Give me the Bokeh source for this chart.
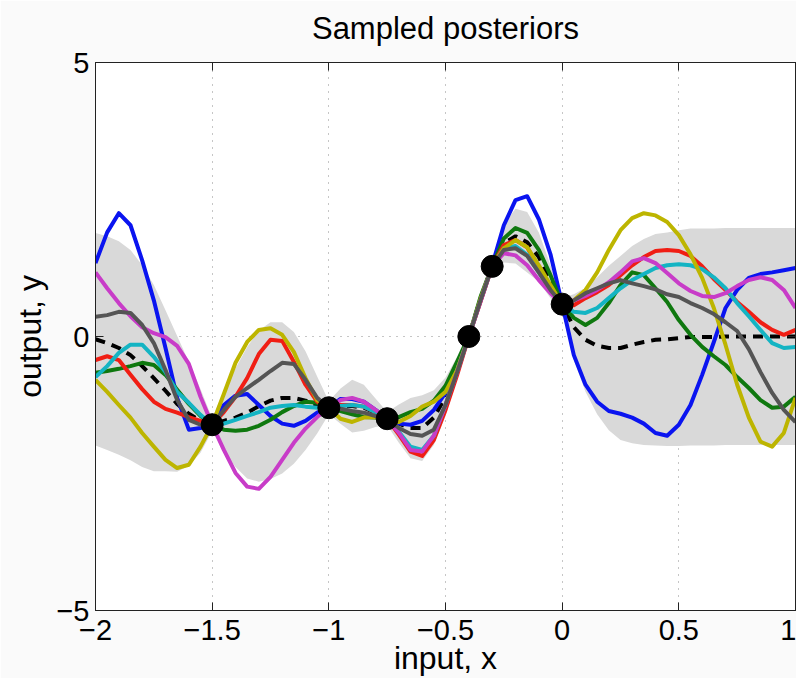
from bokeh.plotting import figure
from bokeh.models import FixedTicker, LinearAxis, Range1d
from bokeh.embed import file_html
from bokeh.resources import INLINE

# ---- data ----
xs = [-2.00, -1.95, -1.90, -1.85, -1.80, -1.75, -1.70, -1.65, -1.60, -1.55, -1.50,
      -1.45, -1.40, -1.35, -1.30, -1.25, -1.20, -1.15, -1.10, -1.05, -1.00,
      -0.95, -0.90, -0.85, -0.80, -0.75, -0.70, -0.65, -0.60, -0.55, -0.50,
      -0.45, -0.40, -0.35, -0.30, -0.25, -0.20, -0.15, -0.10, -0.05, 0.00,
      0.05, 0.10, 0.15, 0.20, 0.25, 0.30, 0.35, 0.40, 0.45, 0.50,
      0.55, 0.60, 0.65, 0.70, 0.75, 0.80, 0.85, 0.90, 0.95, 1.00]

mean = [-0.05, -0.12, -0.21, -0.34, -0.54, -0.76, -0.99, -1.23, -1.41, -1.54, -1.61,
        -1.54, -1.48, -1.39, -1.27, -1.17, -1.12, -1.12, -1.17, -1.25, -1.30,
        -1.27, -1.27, -1.30, -1.39, -1.50, -1.59, -1.67, -1.67, -1.48, -1.10,
        -0.57, 0.00, 0.68, 1.28, 1.70, 1.83, 1.72, 1.45, 1.00, 0.59,
        0.17, -0.06, -0.17, -0.21, -0.21, -0.15, -0.10, -0.06, -0.05, -0.03,
        -0.01, -0.01, -0.01, 0.00, 0.00, 0.00, 0.00, 0.00, 0.00, 0.00]

two_sd = [1.94, 1.95, 1.95, 1.92, 1.84, 1.70, 1.47, 1.24, 0.95, 0.58, 0.12,
          0.55, 0.90, 1.20, 1.38, 1.43, 1.38, 1.20, 0.90, 0.52, 0.12,
          0.32, 0.48, 0.42, 0.26, 0.12, 0.35, 0.55, 0.60, 0.50, 0.35,
          0.20, 0.12, 0.15, 0.12, 0.35, 0.50, 0.55, 0.45, 0.30, 0.12,
          0.60, 0.95, 1.25, 1.50, 1.68, 1.80, 1.88, 1.93, 1.95, 1.97,
          1.98, 1.98, 1.98, 1.98, 1.98, 1.98, 1.98, 1.98, 1.98, 1.98]

s_blue = [1.34, 1.90, 2.25, 2.03, 1.39, 0.66, -0.21, -1.12, -1.70, -1.67, -1.61,
          -1.25, -1.08, -1.05, -1.25, -1.45, -1.59, -1.63, -1.54, -1.39, -1.30,
          -1.14, -1.14, -1.19, -1.34, -1.50, -1.59, -1.61, -1.54, -1.34, -1.03,
          -0.52, 0.00, 0.66, 1.30, 2.03, 2.49, 2.56, 2.14, 1.50, 0.59,
          -0.34, -0.88, -1.19, -1.36, -1.41, -1.48, -1.59, -1.76, -1.81, -1.61,
          -1.25, -0.70, -0.10, 0.52, 0.85, 1.07, 1.14, 1.17, 1.21, 1.25]

s_red = [-0.43, -0.36, -0.43, -0.70, -0.96, -1.19, -1.32, -1.39, -1.47, -1.54, -1.61,
         -1.38, -1.10, -0.76, -0.32, -0.06, -0.08, -0.46, -0.88, -1.19, -1.30,
         -1.25, -1.25, -1.28, -1.38, -1.50, -1.79, -2.10, -2.18, -1.89, -1.34,
         -0.70, 0.00, 0.63, 1.28, 1.67, 1.76, 1.63, 1.25, 0.85, 0.59,
         0.57, 0.70, 0.81, 0.94, 1.12, 1.30, 1.45, 1.56, 1.58, 1.56,
         1.47, 1.28, 1.05, 0.85, 0.63, 0.45, 0.26, 0.12, 0.03, 0.12]

s_yellow = [-0.79, -1.01, -1.25, -1.48, -1.76, -2.01, -2.25, -2.40, -2.34, -2.01, -1.61,
            -1.05, -0.48, -0.10, 0.12, 0.15, 0.03, -0.28, -0.76, -1.16, -1.30,
            -1.50, -1.56, -1.48, -1.47, -1.50, -1.56, -1.45, -1.28, -1.19, -1.01,
            -0.61, 0.00, 0.68, 1.28, 1.61, 1.76, 1.63, 1.30, 0.94, 0.59,
            0.66, 0.85, 1.17, 1.58, 1.94, 2.16, 2.25, 2.21, 2.09, 1.85,
            1.50, 1.07, 0.52, -0.15, -0.88, -1.48, -1.92, -2.01, -1.76, -1.12]

s_magenta = [1.17, 0.88, 0.61, 0.37, 0.17, 0.06, -0.01, -0.17, -0.50, -1.10, -1.61,
             -2.07, -2.49, -2.74, -2.78, -2.56, -2.25, -1.94, -1.68, -1.47, -1.30,
             -1.16, -1.12, -1.19, -1.34, -1.50, -1.76, -2.07, -2.10, -1.81, -1.25,
             -0.65, 0.00, 0.64, 1.28, 1.52, 1.48, 1.30, 1.03, 0.79, 0.59,
             0.66, 0.74, 0.85, 0.99, 1.17, 1.37, 1.43, 1.34, 1.16, 0.97,
             0.83, 0.74, 0.72, 0.79, 0.92, 1.03, 1.08, 1.03, 0.85, 0.52]

s_cyan = [-0.74, -0.54, -0.30, -0.15, -0.15, -0.37, -0.65, -1.01, -1.21, -1.43, -1.61,
          -1.59, -1.52, -1.45, -1.38, -1.30, -1.27, -1.25, -1.28, -1.30, -1.30,
          -1.27, -1.25, -1.28, -1.38, -1.50, -1.74, -2.01, -2.07, -1.81, -1.25,
          -0.61, 0.00, 0.66, 1.28, 1.61, 1.65, 1.49, 1.17, 0.85, 0.59,
          0.45, 0.43, 0.52, 0.70, 0.88, 1.03, 1.14, 1.25, 1.30, 1.32,
          1.30, 1.23, 1.08, 0.88, 0.61, 0.37, 0.12, -0.12, -0.21, -0.19]

s_green = [-0.66, -0.63, -0.59, -0.54, -0.48, -0.52, -0.70, -0.97, -1.23, -1.45, -1.61,
           -1.70, -1.72, -1.70, -1.63, -1.52, -1.38, -1.27, -1.19, -1.21, -1.30,
           -1.36, -1.42, -1.47, -1.48, -1.50, -1.47, -1.38, -1.32, -1.17, -0.90,
           -0.46, 0.00, 0.72, 1.28, 1.79, 1.98, 1.89, 1.58, 1.12, 0.59,
           0.34, 0.21, 0.34, 0.61, 0.94, 1.17, 1.12, 0.88, 0.63, 0.30,
           0.03, -0.19, -0.36, -0.52, -0.74, -0.94, -1.16, -1.30, -1.28, -1.10]

s_gray = [0.36, 0.39, 0.45, 0.43, 0.21, -0.12, -0.61, -1.16, -1.52, -1.61, -1.61,
          -1.34, -1.10, -0.94, -0.79, -0.63, -0.48, -0.50, -0.79, -1.12, -1.30,
          -1.32, -1.36, -1.39, -1.45, -1.50, -1.67, -1.78, -1.81, -1.70, -1.25,
          -0.65, 0.00, 0.66, 1.28, 1.58, 1.61, 1.47, 1.17, 0.85, 0.59,
          0.66, 0.79, 0.88, 0.97, 1.03, 0.97, 0.92, 0.86, 0.77, 0.72,
          0.61, 0.52, 0.41, 0.26, 0.10, -0.23, -0.65, -1.03, -1.34, -1.56]

obs_x = [-1.5, -1.0, -0.75, -0.4, -0.3, 0.0]
obs_y = [-1.61, -1.30, -1.50, 0.00, 1.28, 0.59]

x_ticks = [-2, -1.5, -1, -0.5, 0, 0.5, 1]
x_tick_labels = ["\u22122", "\u22121.5", "\u22121", "\u22120.5", "0", "0.5", "1"]
y_ticks = [-5, 0, 5]
y_tick_labels = ["\u22125", "0", "5"]

title_text = "Sampled posteriors"

samples = [
    (s_blue, "#0a14f0"),
    (s_green, "#0f780f"),
    (s_red, "#f01e14"),
    (s_cyan, "#14b4c3"),
    (s_yellow, "#bdb500"),
    (s_magenta, "#c83cc8"),
    (s_gray, "#555555"),
]

FONT = "Liberation Sans"

p = figure(width=796, height=678, x_range=Range1d(-2, 1), y_range=Range1d(-5, 5),
           output_backend="svg", toolbar_location=None,
           min_border_left=95, min_border_right=1, min_border_top=62, min_border_bottom=67)
p.background_fill_color = "white"
p.border_fill_color = "#fafafa"
p.outline_line_color = "#222222"
p.outline_line_width = 1

# band
upper = [m + s for m, s in zip(mean, two_sd)]
lower = [m - s for m, s in zip(mean, two_sd)]
p.varea(x=xs, y1=lower, y2=upper, fill_color="#d9d9d9")

p.line(xs, mean, line_color="black", line_width=4, line_dash="10 7")
for ys, col in samples:
    p.line(xs, ys, line_color=col, line_width=4, line_join="round")

p.scatter(obs_x, obs_y, size=22, color="black")

# axes
xax = p.xaxis[0]
yax = p.yaxis[0]
xax.ticker = FixedTicker(ticks=x_ticks)
yax.ticker = FixedTicker(ticks=y_ticks)
xax.major_label_overrides = dict(zip(x_ticks, x_tick_labels))
yax.major_label_overrides = dict(zip(y_ticks, y_tick_labels))
for ax in (xax, yax):
    ax.major_tick_in = 8
    ax.major_tick_out = 0
    ax.minor_tick_line_color = None
    ax.axis_line_color = "#222222"
    ax.major_tick_line_color = "#222222"
    ax.major_label_text_font = FONT
    ax.major_label_text_font_size = "29px"
    ax.major_label_text_color = "black"
    ax.axis_label_text_font = FONT
    ax.axis_label_text_font_size = "32px"
    ax.axis_label_text_font_style = "normal"
    ax.axis_label_text_color = "black"
xax.axis_label = "input, x"
yax.axis_label = "output, y"
xax.major_label_standoff = 9
xax.axis_label_standoff = -3
yax.major_label_standoff = 6
yax.axis_label_standoff = 5

# top axis carries the MATLAB-style top ticks and the title
top_ax = LinearAxis(ticker=FixedTicker(ticks=x_ticks),
                    major_label_overrides={t: "" for t in x_ticks},
                    major_label_text_font_size="1px", major_label_standoff=0,
                    major_tick_in=8, major_tick_out=0, minor_tick_line_color=None,
                    axis_line_color="#222222", major_tick_line_color="#222222",
                    axis_label=title_text, axis_label_standoff=17,
                    axis_label_text_font=FONT, axis_label_text_font_size="31px",
                    axis_label_text_font_style="normal", axis_label_text_color="black")
right_ax = LinearAxis(ticker=FixedTicker(ticks=y_ticks),
                      major_label_overrides={t: "" for t in y_ticks},
                      major_label_text_font_size="1px", major_label_standoff=0,
                      major_tick_in=8, major_tick_out=0, minor_tick_line_color=None,
                      axis_line_color="#222222", major_tick_line_color="#222222")
p.add_layout(top_ax, "above")
p.add_layout(right_ax, "right")

p.xgrid.ticker = FixedTicker(ticks=x_ticks)
p.ygrid.ticker = FixedTicker(ticks=y_ticks)
for g in (p.xgrid, p.ygrid):
    g.grid_line_color = "#8c8c8c"
    g.grid_line_dash = "1 6"
    g.grid_line_width = 1

open("out.html", "w").write(file_html(p, INLINE))
